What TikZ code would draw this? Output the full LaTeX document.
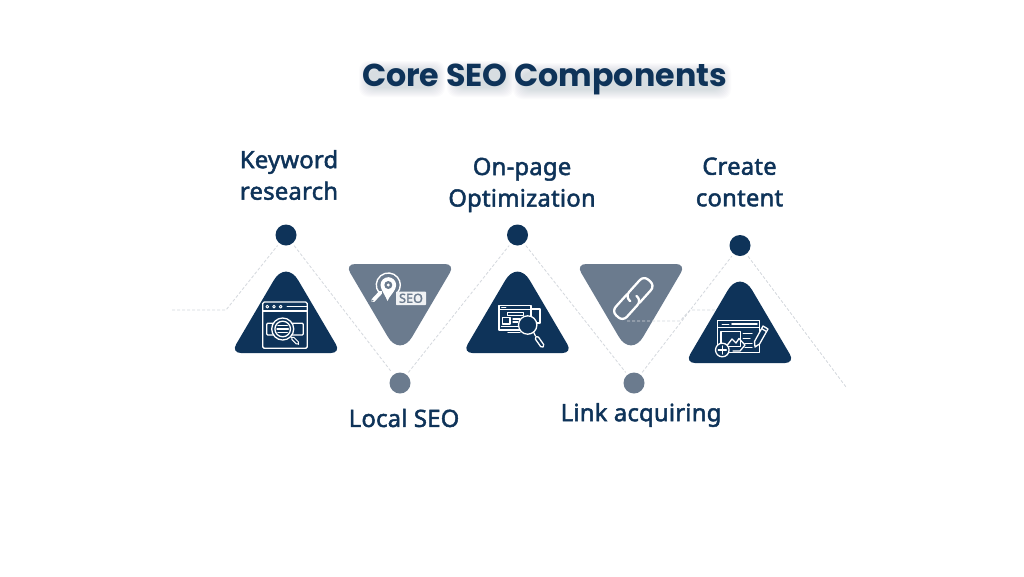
\documentclass[tikz,border=0pt]{standalone}
\usepackage{fontspec}
\newfontfamily\titlefont{Poppins}[UprightFont=* Bold]
\newfontfamily\labfont{Noto Sans}[FakeBold=2,LetterSpace=1]
\usetikzlibrary{calc}
\definecolor{navy}{HTML}{0E3359}
\definecolor{slate}{HTML}{6B7B8E}
\definecolor{dashc}{HTML}{D4D8DD}
\tikzset{
  x=1pt,y=-1pt,
  dotn/.style={circle,minimum size=21pt,inner sep=0pt,outer sep=3pt,fill=#1},
  lab/.style={font=\labfont\fontsize{23.8}{31.5}\selectfont,text=navy,align=center,inner sep=0pt},
  dashl/.style={draw=dashc,line width=.8pt,dash pattern=on 3pt off 2pt},
  ico/.style={draw=#1,line width=1.3pt,line join=round,line cap=round},
  ico/.default=white
}
\newcommand{\uptri}[3]{\fill[#3] (#1,#2) [rounded corners=10pt] -- ++(-55,0) [rounded corners=24pt] -- ++(55,-93.5) [rounded corners=10pt] -- ++(55,93.5) -- cycle;}
\newcommand{\dntri}[3]{\fill[#3] (#1,#2) [rounded corners=10pt] -- ++(-55,0) [rounded corners=24pt] -- ++(55,93.5) [rounded corners=10pt] -- ++(55,-93.5) -- cycle;}
\newcommand{\softband}[4]{\foreach \g in {0,1,...,9}
  \fill[navy,opacity=.014,rounded corners=9pt] (#1-\g,#3-\g) rectangle (#2+\g,#4+\g);}
\begin{document}
\begin{tikzpicture}
\useasboundingbox (0,0) rectangle (1024,576);
\fill[white] (0,0) rectangle (1024,576);

% title with soft shadow
\softband{368}{436}{70}{88}
\softband{456}{505}{70}{88}
\softband{522}{722}{72}{90}
\node[font=\titlefont\fontsize{31.7}{36}\selectfont,text=navy,inner sep=0pt] (title) at (544.5,79) {Core SEO Components};

% dots
\node[dotn=navy]  (d1) at (286,235) {};
\node[dotn=slate] (d2) at (400,383) {};
\node[dotn=navy]  (d3) at (517.5,235) {};
\node[dotn=slate] (d4) at (634,383) {};
\node[dotn=navy]  (d5) at (740,245.5) {};

% connectors
\coordinate (s0) at (172,310);
\coordinate (s1) at (226,310);
\coordinate (e1) at (846,387);
\draw[dashl] (s0) -- (s1) -- (d1);
\draw[dashl] (d1) -- (d2);
\draw[dashl] (d2) -- (d3);
\draw[dashl] (d3) -- (d4);
\draw[dashl] (d4) -- (d5);
\draw[dashl] (d5) -- (e1);

% triangles
\uptri{286}{353}{navy}
\dntri{400}{264}{slate}
\uptri{517.5}{353}{navy}
\dntri{631}{264}{slate}
\coordinate (h0) at (627,321);
\coordinate (h1) at (680,321);
\coordinate (h2) at (690,310);
\coordinate (h3) at (716,310);
\draw[dashl] (h0) -- (h1) -- (h2) -- (h3);
\uptri{740}{363}{navy}

% icon 1: keyword research
\begin{scope}[ico]
\draw[rounded corners=1.5pt] (262.7,302) rectangle (307.3,348.3);
\draw (262.7,311) -- (307.3,311);
\foreach \x in {267.3,274,280.7} \draw[line width=.9pt] (\x,306.7) circle (1.4);
\draw (287.3,306.7) -- (306.7,306.7);
\draw[rounded corners=1pt] (266.7,323.3) rectangle (303.3,335);
\draw[fill=navy] (282.7,329) circle (11);
\draw (282.7,329) circle (7.8);
\draw (278,325.8) -- (287.4,325.8) (277,329) -- (288.4,329) (278,332.2) -- (287.4,332.2);
\draw[fill=navy,line width=1pt,rounded corners=1.8pt] (290.6,338.3) -- (292.7,336.2) -- (299.6,343.1) -- (297.5,345.2) -- cycle;
\end{scope}

% icon 2: local seo
\begin{scope}[ico]
\draw[line width=1.4pt] (379.1,292.7) arc (-220:40:12);
\fill[white] (381.3,288.5) .. controls (383,293) and (385.5,296) .. (387.5,301) .. controls (389.5,296) and (393.5,293) .. (395.3,288.5) -- cycle;
\fill[white] (388.3,285) circle (7.8);
\fill[slate] (388.3,285) circle (4);
\fill[white] (388.3,285) circle (1.6);
\draw[line width=3.8pt] (373,300.5) -- (380.5,292.5);
\fill[slate] (372.8,300.7) circle (.9);
\end{scope}
\node[fill=white!90!slate,rounded corners=.8pt,minimum width=30pt,minimum height=13.5pt,inner sep=0pt,text=slate,font=\labfont\fontsize{12.5}{13}\selectfont] (seotag) at (411,298.3) {SEO};

% icon 3: on-page
\begin{scope}[ico]
\draw (531,309) -- (540,309) -- (540,323) -- (535,323);
\draw[fill=navy] (499,305.7) rectangle (531,330);
\draw (499,309.8) -- (531,309.8);
\draw[line width=.8pt] (501.5,307.8) -- (506,307.8);
\draw (507.3,312.7) rectangle (523.3,315.2);
\draw (502.3,317.3) rectangle (510,324);
\draw (513,319) -- (520,319) (513,322) -- (518,322);
\draw (501.5,326.7) -- (520,326.7);
\draw (508,332.5) -- (520,332.5);
\draw[fill=navy] (527.7,325) circle (9.2);
\draw[rounded corners=1.5pt] (534.6,338) -- (537.5,335.8) -- (544.5,345.7) -- (541.6,347.9) -- cycle;
\draw (533.5,332) -- (535.5,336);
\end{scope}

% icon 4: chain link
\begin{scope}[shift={(633.3,298.5)},rotate=48]
\begin{scope}[ico,line width=2.3pt,rounded corners=6pt]
\draw (-1,-7.5) -- (-24,-7.5) -- (-24,7.5) -- (4,7.5) -- (4,0.5);
\draw (1,7.5) -- (24,7.5) -- (24,-7.5) -- (-4,-7.5) -- (-4,-0.5);
\end{scope}
\end{scope}

% icon 5: create content
\begin{scope}[ico]
\draw (717.7,320.7) rectangle (759.3,352.7);
\draw (717.7,327.4) -- (759.3,327.4);
\draw[line width=.9pt] (722,324) -- (729,324);
\draw[line width=1.8pt] (732,324) -- (757,324);
\draw (721,331.7) rectangle (740.7,346.7);
\draw (726,346.7) -- (732,339) -- (736,343) -- (739,338.5) -- (745,345) -- (740,351) -- (733,351);
\draw (743.3,333.3) -- (752,333.3) (743.3,338.3) -- (750,338.3) (745,343.3) -- (752,343.3) (745,347.3) -- (752,347.3);
\draw[fill=navy] (722.3,350) circle (6.8);
\draw (722.3,346) -- (722.3,354) (718.3,350) -- (726.3,350);
\draw[fill=navy,line join=round] (755,347) -- (754.5,341.5) -- (763,326) -- (768,329) -- (759.5,344) -- cycle;
\draw (761.6,328.6) -- (766.6,331.6);
\end{scope}

% labels
\node[lab] (l1) at (289,175) {Keyword\\research};
\node[lab] (l2) at (404,418) {Local SEO};
\node[lab] (l3) at (522,185) {On-page\\Optimization};
\node[lab] (l4) at (641,415) {Link acquiring};
\node[lab] (l5) at (739.5,182) {Create\\content};
\end{tikzpicture}
\end{document}
